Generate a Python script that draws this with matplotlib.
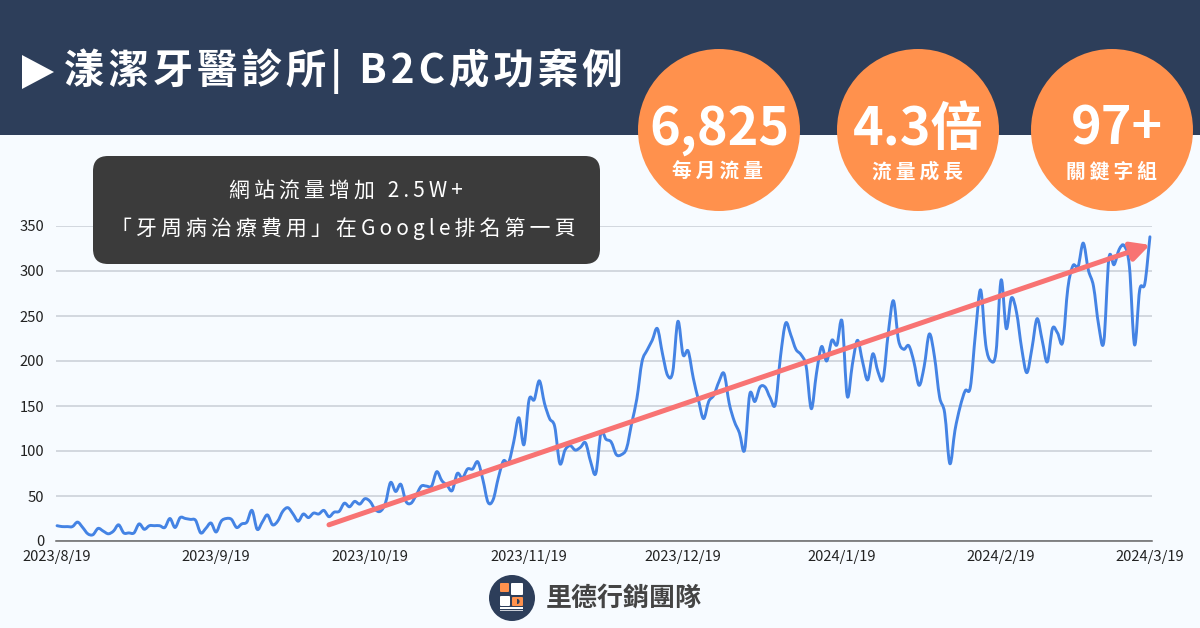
import matplotlib
matplotlib.use('Agg')
import matplotlib.pyplot as plt
import matplotlib.dates as mdates
import numpy as np
import pandas as pd
from matplotlib.patches import Circle, FancyBboxPatch, PathPatch, Polygon, Rectangle, Wedge
from matplotlib.path import Path

plt.rcParams['font.family'] = ['Noto Sans CJK TC', 'DejaVu Sans']

# daily sessions, 2023/8/19 .. 2024/3/19
traffic_1 = [17, 16, 16, 16, 21, 15, 8, 7, 14, 11, 8, 11, 18, 9, 9, 9, 19, 13, 17, 17,
             17, 15, 25, 15, 26, 25, 24, 23, 9, 14, 20, 10, 22, 25, 24, 15, 19, 21, 34, 13,
             21, 29, 18, 22, 33, 37, 30, 22, 30, 26, 31, 30, 34, 27, 32, 33, 42, 38, 44, 41]
traffic_2 = [47, 44, 35, 33, 42, 65, 55, 63, 44, 42, 51, 61, 61, 61, 77, 67, 62, 56, 75, 70,
             80, 80, 88, 68, 43, 46, 70, 89, 87, 110, 137, 107, 157, 157, 178, 153, 136, 127, 86, 101,
             106, 101, 104, 109, 88, 75, 120, 113, 110, 96, 96, 103, 131, 158, 199, 212, 223, 236, 208, 184]
traffic_3 = [188, 244, 207, 211, 181, 157, 136, 155, 162, 177, 186, 153, 133, 120, 101, 163, 155, 171, 171, 159,
             152, 205, 242, 229, 213, 207, 194, 147, 186, 216, 200, 223, 218, 244, 161, 196, 223, 199, 179, 208,
             188, 180, 231, 267, 223, 213, 217, 199, 173, 194, 230, 205, 160, 142, 86, 123, 149, 167, 171, 231]
traffic_4 = [279, 218, 200, 210, 290, 236, 270, 254, 214, 187, 214, 247, 223, 199, 236, 231, 221, 281, 306, 305,
             331, 301, 283, 240, 221, 314, 307, 324, 328, 305, 218, 279, 286, 338]
traffic = traffic_1 + traffic_2 + traffic_3 + traffic_4

dates = pd.date_range('2023-08-19', periods=len(traffic), freq='D')
tick_dates = ['2023-08-19', '2023-09-19', '2023-10-19', '2023-11-19',
              '2023-12-19', '2024-01-19', '2024-02-19', '2024-03-19']
y_ticks = [0, 50, 100, 150, 200, 250, 300, 350]

trend_dates = ['2023-10-11', '2024-03-19']
trend_values = [18, 329]

title = '漾潔牙醫診所| B2C成功案例'
stat_values = ['6,825', '4.3倍', '97+']
stat_labels = ['每月流量', '流量成長', '關鍵字組']
note_lines = ['網站流量增加 2.5W+', '「牙周病治療費用」在Google排名第一頁']
brand = '里德行銷團隊'

NAVY = '#2D3E5A'
BG = '#F7FBFF'
ORANGE = '#FF914D'
BLUE = '#4483E4'
RED = '#F87373'


def spaced(text, gap='\u200a'):
    # matplotlib has no letter spacing, so hair spaces stand in for it
    return gap.join(text)


def smooth_path(x, y):
    # Catmull-Rom through the daily points, like the source chart's smoothed line
    x = np.asarray(x, dtype=float)
    y = np.asarray(y, dtype=float)
    dx = np.gradient(x) / 3
    dy = np.gradient(y) / 3
    verts = [(x[0], y[0])]
    codes = [Path.MOVETO]
    for i in range(len(x) - 1):
        verts += [(x[i] + dx[i], y[i] + dy[i]), (x[i + 1] - dx[i + 1], y[i + 1] - dy[i + 1]), (x[i + 1], y[i + 1])]
        codes += [Path.CURVE4, Path.CURVE4, Path.CURVE4]
    return Path(verts, codes)


fig = plt.figure(figsize=(12, 6.28), dpi=100, facecolor=BG)

# pixel-space layer for the header
back = fig.add_axes([0, 0, 1, 1], zorder=0)
back.set_xlim(0, 1200)
back.set_ylim(628, 0)
back.axis('off')
back.add_patch(Rectangle((0, 0), 1200, 135, color=NAVY, lw=0))

# chart
ax = fig.add_axes([56 / 1200, 87 / 628, 1096 / 1200, 315 / 628], zorder=1)
ax.patch.set_alpha(0)
x_nums = mdates.date2num(dates)
ax.set_xlim(x_nums[0] - 0.2, x_nums[-1] + 0.4)
ax.set_ylim(0, 350)
ax.set_yticks(y_ticks)
ax.set_xticks(mdates.date2num(pd.to_datetime(tick_dates)))
ax.set_xticklabels([f'{d.year}/{d.month}/{d.day}' for d in pd.to_datetime(tick_dates)])
ax.tick_params(axis='both', length=0, labelsize=10.6, colors='#222222')
ax.tick_params(axis='y', pad=8.5)
ax.tick_params(axis='x', pad=6.5)
ax.grid(axis='y', color='#C9CED6', lw=1.1)
ax.set_axisbelow(True)
for side in ['top', 'left', 'right']:
    ax.spines[side].set_visible(False)
ax.spines['bottom'].set_color('#666666')
ax.spines['bottom'].set_linewidth(1.1)

ax.add_patch(PathPatch(smooth_path(x_nums, traffic), fill=False, edgecolor=BLUE, lw=2.1,
                       capstyle='round', joinstyle='round', clip_on=False))

trend_x = mdates.date2num(pd.to_datetime(trend_dates))
ax.annotate('', xy=(trend_x[1], trend_values[1]), xytext=(trend_x[0], trend_values[0]),
            annotation_clip=False,
            arrowprops=dict(arrowstyle='-|>,head_length=0.7,head_width=0.36', color=RED, lw=3.6,
                            shrinkA=0, shrinkB=0, mutation_scale=16))

# pixel-space layer on top: circles, note box, texts
top = fig.add_axes([0, 0, 1, 1], zorder=2)
top.set_xlim(0, 1200)
top.set_ylim(628, 0)
top.axis('off')
top.patch.set_alpha(0)

top.add_patch(Polygon([(22, 55), (22, 89), (54, 72)], color='white', lw=0))
top.text(64, 71, spaced(title), fontsize=29.1, fontweight='bold', color='white', ha='left', va='center')

for cx, value, label, tx in zip([719, 918, 1112], stat_values, stat_labels, [719, 918, 1117]):
    top.add_patch(Circle((cx, 130), 81, color=ORANGE, lw=0))
    top.text(tx, 129, value, fontsize=37.5, fontweight='bold', color='white', ha='center', va='center')
    top.text(cx - 1, 172, spaced(label, '\u2009'), fontsize=14.2, fontweight='bold', color='white', ha='center', va='center')

top.add_patch(FancyBboxPatch((93 + 15, 156 + 15), 507 - 30, 108 - 30, boxstyle='round,pad=15,rounding_size=15',
                             lw=0, color='#3B3B3B'))
top.text(346, 192, spaced(note_lines[0], '\u2009'), fontsize=15, color='white', ha='center', va='center')
top.text(343, 229, spaced(note_lines[1], '\u2009'), fontsize=15, color='white', ha='center', va='center')

# brand mark
top.add_patch(Circle((512, 598), 23, color=NAVY, lw=0))
top.add_patch(FancyBboxPatch((501, 584), 7, 7, boxstyle='round,pad=1,rounding_size=1', lw=0, color=ORANGE))
top.add_patch(FancyBboxPatch((512, 584), 10, 10, boxstyle='round,pad=1,rounding_size=1', lw=0, color='white'))
top.add_patch(FancyBboxPatch((501, 597), 8, 8, boxstyle='round,pad=1,rounding_size=1', lw=0, color='white'))
top.add_patch(FancyBboxPatch((513, 598), 9, 7, boxstyle='round,pad=1,rounding_size=1', lw=0, color=ORANGE))
top.add_patch(Wedge((517, 601.5), 2.6, -90, 90, color=NAVY, lw=0))
top.add_patch(Rectangle((500, 607), 23, 2, color='white', lw=0))
top.add_patch(Rectangle((500, 610), 23, 1, color='#C9CED6', lw=0))
top.text(546, 598, brand, fontsize=18.7, fontweight='bold', color='#444444', ha='left', va='center')

fig.savefig('out.png', dpi=100, facecolor=BG)
